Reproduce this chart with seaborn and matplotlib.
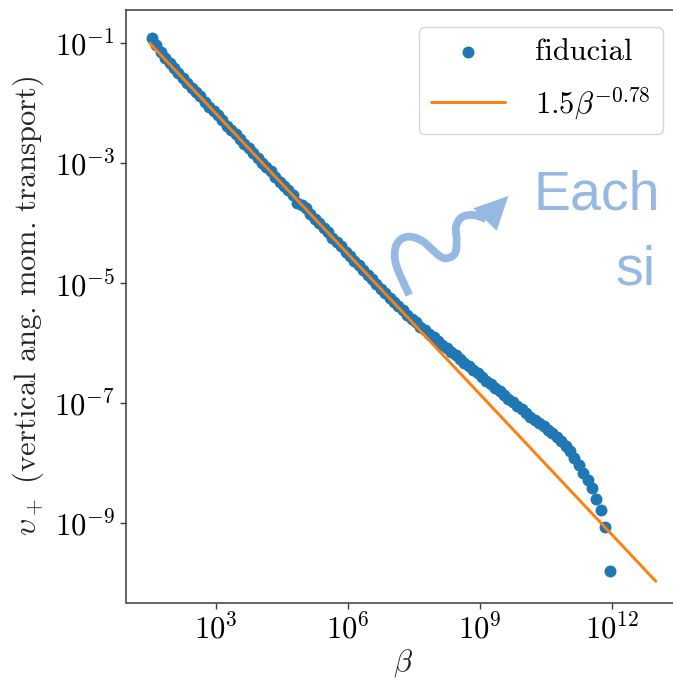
import numpy as np
import matplotlib
matplotlib.use("Agg")
import matplotlib.pyplot as plt
import seaborn as sns
import pandas as pd
from matplotlib.lines import Line2D
from matplotlib.patches import Polygon
from matplotlib.ticker import NullLocator, FixedLocator, LogFormatterSciNotation

# ---- data (log10 values) ----
beta_exp = [1.55, 1.65, 1.75, 1.85, 1.95, 2.05, 2.15, 2.25, 2.35, 2.45,
            2.55, 2.65, 2.75, 2.85, 2.95, 3.05, 3.15, 3.25, 3.35, 3.45,
            3.55, 3.65, 3.75, 3.85, 3.95, 4.05, 4.15, 4.25, 4.35, 4.45,
            4.55, 4.65, 4.75, 4.85, 4.95, 5.05, 5.15, 5.25, 5.35, 5.45,
            5.55, 5.65, 5.75, 5.85, 5.95, 6.05, 6.15, 6.25, 6.35, 6.45,
            6.55, 6.65, 6.75, 6.85, 6.95, 7.05, 7.15, 7.25, 7.35, 7.45,
            7.55, 7.65, 7.75, 7.85, 7.95, 8.05, 8.15, 8.25, 8.35, 8.45,
            8.55, 8.65, 8.75, 8.85, 8.95, 9.05, 9.15, 9.25, 9.35, 9.45,
            9.55, 9.65, 9.75, 9.85, 9.95, 10.05, 10.15, 10.25, 10.35, 10.45,
            10.55, 10.65, 10.75, 10.85, 10.95, 11.05, 11.15, 11.25, 11.35, 11.45,
            11.55, 11.65, 11.75, 11.85, 11.95]
v_exp = [-0.91, -1.03, -1.14, -1.24, -1.33, -1.41, -1.50, -1.57, -1.66, -1.75,
         -1.81, -1.88, -1.97, -2.06, -2.13, -2.19, -2.28, -2.37, -2.44, -2.51,
         -2.59, -2.68, -2.75, -2.82, -2.91, -2.99, -3.06, -3.13, -3.22, -3.31,
         -3.37, -3.44, -3.53, -3.66, -3.69, -3.75, -3.84, -3.93, -4.00, -4.07,
         -4.15, -4.24, -4.31, -4.38, -4.47, -4.55, -4.62, -4.69, -4.78, -4.86,
         -4.93, -5.01, -5.09, -5.16, -5.24, -5.31, -5.38, -5.45, -5.52, -5.59,
         -5.65, -5.72, -5.78, -5.84, -5.90, -5.96, -6.02, -6.08, -6.14, -6.20,
         -6.26, -6.32, -6.38, -6.44, -6.50, -6.56, -6.62, -6.68, -6.74, -6.80,
         -6.86, -6.92, -6.98, -7.04, -7.10, -7.16, -7.22, -7.27, -7.33, -7.38,
         -7.44, -7.50, -7.56, -7.63, -7.71, -7.80, -7.91, -8.03, -8.16, -8.28,
         -8.41, -8.59, -8.78, -9.06, -9.80]
fit_beta = [31.62, 1.0e13]
fit_v = [0.1014, 1.086e-10]
x_ticks = [1e3, 1e6, 1e9, 1e12]
y_ticks = [1e-1, 1e-3, 1e-5, 1e-7, 1e-9]

df = pd.DataFrame({"beta": 10.0 ** np.array(beta_exp), "v": 10.0 ** np.array(v_exp)})

sns.set_style("ticks")
plt.rcParams.update({
    "font.family": "serif",
    "font.serif": ["cmr10", "DejaVu Serif"],
    "mathtext.fontset": "cm",
    "axes.formatter.use_mathtext": True,
    "axes.unicode_minus": True,
    "axes.edgecolor": "#3a3a3a",
    "text.color": "black",
    "xtick.color": "#3a3a3a",
    "ytick.color": "#3a3a3a",
    "xtick.labelcolor": "black",
    "ytick.labelcolor": "black",
})

W, H = 673, 681
fig = plt.figure(figsize=(W / 100, H / 100), dpi=100)
ax = fig.add_axes([126 / W, (H - 602.5) / H, (680 - 126) / W, (602.5 - 10) / H])
ax.set_xscale("log")
ax.set_yscale("log")

sns.scatterplot(data=df, x="beta", y="v", ax=ax, s=74, color="#1f77b4",
                linewidth=0, label="fiducial", zorder=2)
sns.lineplot(x=fit_beta, y=fit_v, ax=ax, color="#ff7f0e", lw=2.1,
             label=r"$1.5\beta^{-0.78}$", zorder=3)

ax.set_xlim(10 ** 0.961, 10 ** 13.55)
ax.set_ylim(10 ** -10.317, 10 ** -0.442)
ax.xaxis.set_major_locator(FixedLocator(x_ticks))
ax.yaxis.set_major_locator(FixedLocator(y_ticks))
ax.xaxis.set_major_formatter(LogFormatterSciNotation())
ax.yaxis.set_major_formatter(LogFormatterSciNotation())
ax.xaxis.set_minor_locator(NullLocator())
ax.yaxis.set_minor_locator(NullLocator())
ax.tick_params(axis="both", which="major", labelsize=22, length=4.5, width=1.0)
for s in ax.spines.values():
    s.set_linewidth(1.1)

ax.set_xlabel(r"$\beta$", fontsize=22, labelpad=2)
ax.set_ylabel(r"$\upsilon_+$ (vertical ang. mom. transport)", fontsize=22, labelpad=6)

leg = ax.legend(loc="upper right", fontsize=22, handlelength=2.4, handletextpad=1.0,
                labelspacing=0.6, scatterpoints=1, borderaxespad=0.55)

# ---- decorative annotation (figure pixel coordinates) ----
acol = "#96b9e4"
pts = np.array([(409.3, 295), (396.7, 266.7), (395, 250), (400, 240), (410, 236.7),
                (423.3, 241.7), (438.3, 255), (446.7, 258.3), (455, 253.3),
                (456.7, 240), (456, 226.7), (461.7, 217.3), (473.3, 215), (486, 219)])

def catmull(p, n=20):
    p = np.vstack([p[0], p, p[-1]])
    out = []
    for i in range(1, len(p) - 2):
        p0, p1, p2, p3 = p[i - 1], p[i], p[i + 1], p[i + 2]
        for t in np.linspace(0, 1, n, endpoint=False):
            t2, t3 = t * t, t * t * t
            out.append(0.5 * ((2 * p1) + (-p0 + p2) * t + (2 * p0 - 5 * p1 + 4 * p2 - p3) * t2
                              + (-p0 + 3 * p1 - 3 * p2 + p3) * t3))
    out.append(p[-2])
    return np.array(out)

curve = catmull(pts)
fig.add_artist(Line2D(curve[:, 0] / W, 1 - curve[:, 1] / H, color=acol, lw=5.6,
                      solid_capstyle="butt", transform=fig.transFigure))
head = np.array([(473.3, 208.3), (508.3, 196), (496.7, 230.7)])
fig.add_artist(Polygon(np.column_stack([head[:, 0] / W, 1 - head[:, 1] / H]),
                       closed=True, color=acol, lw=0, transform=fig.transFigure))

fig.text(533 / W, 1 - 210 / H, "Each", fontsize=40, color=acol,
         family=["Liberation Sans"], ha="left", va="baseline")
fig.text(615 / W, 1 - 285 / H, "si", fontsize=40, color=acol,
         family=["Liberation Sans"], ha="left", va="baseline")

fig.savefig("out.png", dpi=100)
